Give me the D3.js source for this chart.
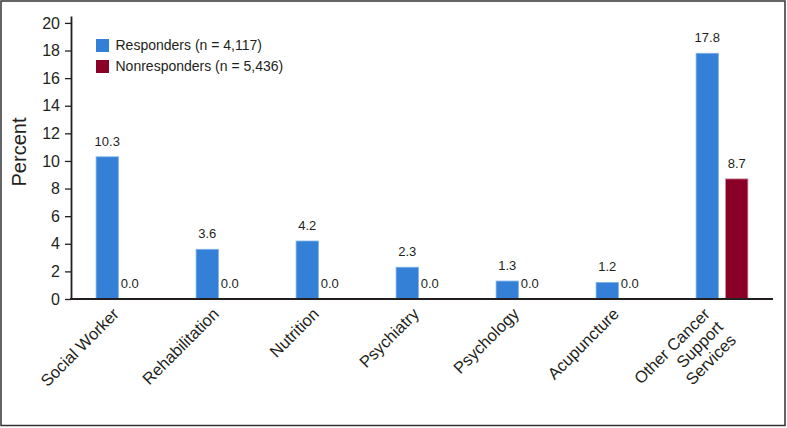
<!DOCTYPE html>
<html>
<head>
<meta charset="utf-8">
<script src="https://cdn.jsdelivr.net/npm/d3@7"></script>
<style>
  body { margin: 0; background: #fff; }
  svg { display: block; font-family: "Liberation Sans", Arial, sans-serif; }
  text { fill: #231f20; }
</style>
</head>
<body>
<svg width="787" height="428"></svg>
<script>
// data
const categories = ['Social Worker', 'Rehabilitation', 'Nutrition', 'Psychiatry',
  'Psychology', 'Acupuncture', 'Other Cancer Support Services'];
const categoryLines = [['Social Worker'], ['Rehabilitation'], ['Nutrition'], ['Psychiatry'],
  ['Psychology'], ['Acupuncture'], ['Other Cancer', 'Support', 'Services']];
const responders = [10.3, 3.6, 4.2, 2.3, 1.3, 1.2, 17.8];
const nonresponders = [0.0, 0.0, 0.0, 0.0, 0.0, 0.0, 8.7];
const seriesNames = ['Responders (n = 4,117)', 'Nonresponders (n = 5,436)'];
const yTicks = [0, 2, 4, 6, 8, 10, 12, 14, 16, 18, 20];

const colors = ['#3480d6', '#8a0027'];
const edges = ['#7fb0ea', '#c98d9c'];
const ink = '#231f20';

const svg = d3.select('svg');

// outer frame
svg.append('rect')
  .attr('x', 1).attr('y', 1)
  .attr('width', 784).attr('height', 424.5)
  .attr('fill', 'none')
  .attr('stroke', '#333')
  .attr('stroke-width', 1.5);

const y = d3.scaleLinear().domain([0, 20.5]).range([299, 16]);
const x = d3.scaleBand().domain(categories).range([72, 772]);
const xs = d3.scaleBand().domain([0, 1]).range([0, x.bandwidth()])
  .paddingInner(0.244).paddingOuter(0.817);

const rows = categories.map((c, i) => ({
  cat: c, lines: categoryLines[i], vals: [responders[i], nonresponders[i]]
}));

// bars
const groups = svg.selectAll('g.cat').data(rows)
  .enter().append('g')
  .attr('class', 'cat')
  .attr('transform', d => `translate(${x(d.cat)},0)`);

groups.selectAll('rect').data(d => d.vals)
  .enter().append('rect')
  .attr('x', (v, j) => xs(j))
  .attr('width', xs.bandwidth())
  .attr('y', v => y(v))
  .attr('height', v => y(0) - y(v))
  .attr('fill', (v, j) => colors[j])
  .attr('stroke', (v, j) => v > 0 ? edges[j] : 'none')
  .attr('stroke-width', 0.8);

// value labels (zero labels sit a little to the left, as in the figure)
groups.selectAll('text.val').data(d => d.vals)
  .enter().append('text')
  .attr('class', 'val')
  .attr('x', (v, j) => xs(j) + xs.bandwidth() / 2 + (v === 0 ? -7 : 0))
  .attr('y', v => y(v) - 11)
  .attr('text-anchor', 'middle')
  .style('font-size', '13px')
  .text(v => v.toFixed(1));

// y axis
const yAxis = svg.append('g')
  .attr('transform', 'translate(71,0)')
  .call(d3.axisLeft(y).tickValues(yTicks).tickSize(6).tickSizeOuter(0).tickPadding(5));
yAxis.select('.domain').attr('stroke', ink).attr('stroke-width', 1.8);
yAxis.selectAll('.tick line').attr('stroke', ink).attr('stroke-width', 1.3);
yAxis.selectAll('.tick text')
  .style('font-size', '16px')
  .style('font-family', '"Liberation Sans", Arial, sans-serif')
  .attr('fill', ink);

// x axis
const xAxis = svg.append('g')
  .attr('transform', `translate(0,${y(0)})`)
  .call(d3.axisBottom(x).tickSize(0).tickSizeOuter(0).tickFormat(''));
xAxis.select('.domain').attr('d', `M70,0H773`).attr('stroke', ink).attr('stroke-width', 2.2);

// rotated category labels
const labels = svg.selectAll('g.xlab').data(rows)
  .enter().append('g')
  .attr('class', 'xlab')
  .attr('transform', d => {
    const cx = x(d.cat) + x.bandwidth() / 2;
    const off = d.lines.length > 1 ? -11 : -2;
    return `translate(${cx + off},315) rotate(-45)`;
  });

labels.append('text')
  .attr('text-anchor', 'end')
  .style('font-size', '16.5px')
  .selectAll('tspan').data(d => d.lines)
  .enter().append('tspan')
  .attr('x', 0)
  .attr('dy', (l, i) => i === 0 ? 0 : 18.5)
  .text(l => l);

// y title
svg.append('text')
  .attr('transform', 'translate(25.5,152) rotate(-90)')
  .attr('text-anchor', 'middle')
  .style('font-size', '20px')
  .text('Percent');

// legend
const legend = svg.selectAll('g.leg').data(seriesNames)
  .enter().append('g')
  .attr('class', 'leg')
  .attr('transform', (d, i) => `translate(96,${39 + i * 21})`);

legend.append('rect')
  .attr('width', 13).attr('height', 13)
  .attr('fill', (d, i) => colors[i]);

legend.append('text')
  .attr('x', 19.5)
  .attr('y', 6.5)
  .attr('dy', '0.35em')
  .style('font-size', '14px')
  .text(d => d);
</script>
</body>
</html>
